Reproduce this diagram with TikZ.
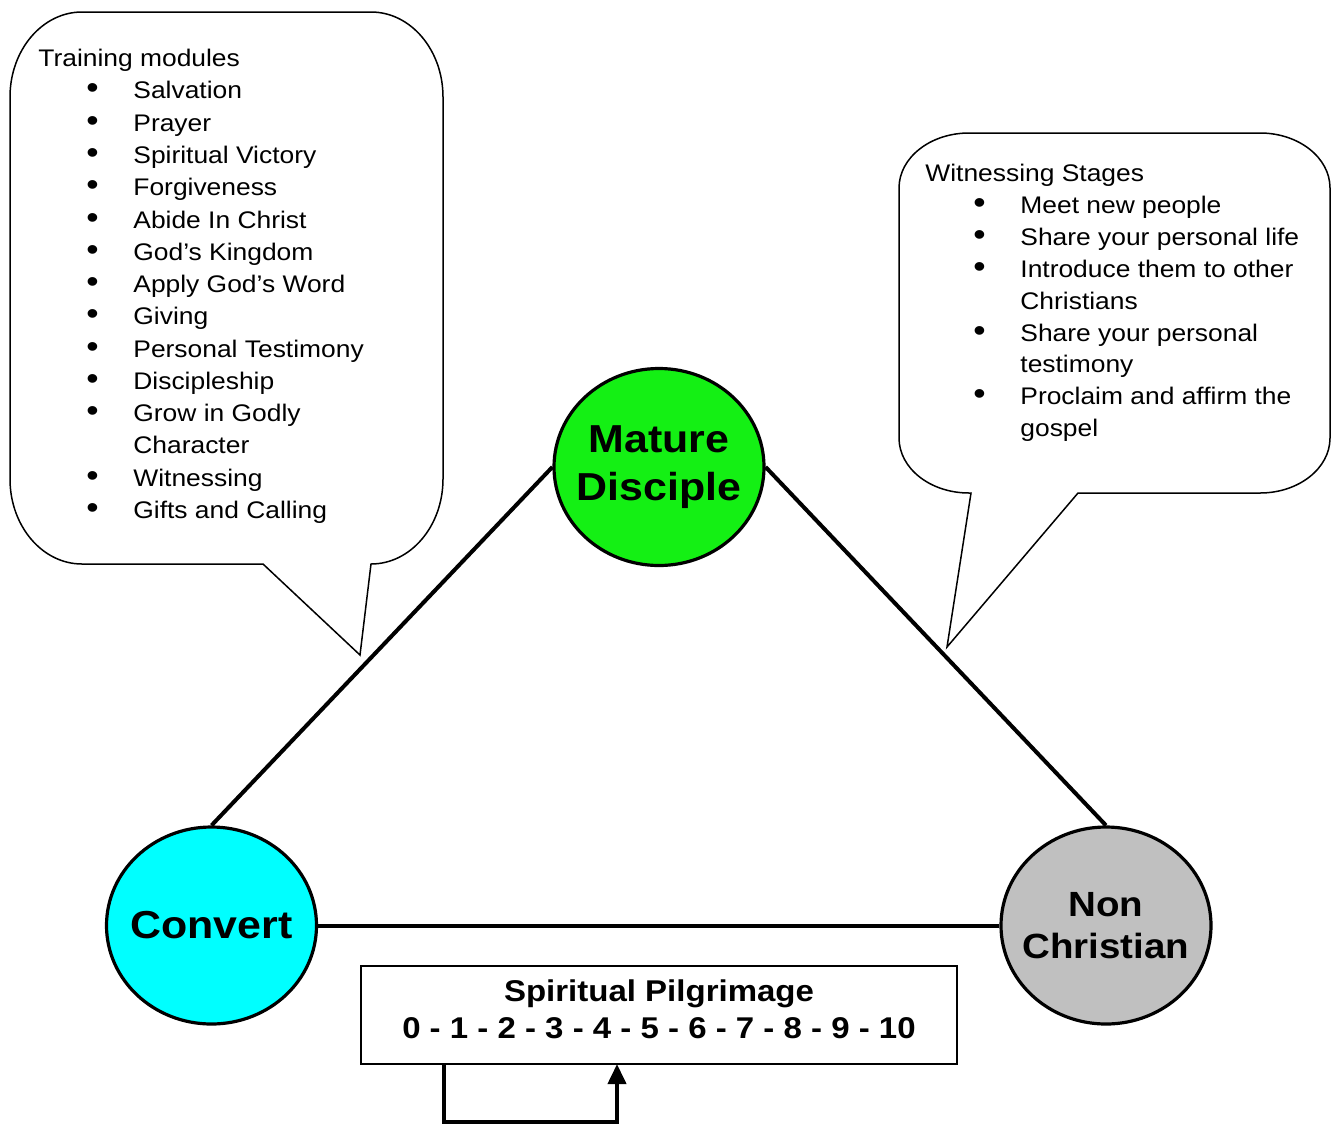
\documentclass[tikz,border=0pt]{standalone}
\usepackage{fontspec}
\setmainfont{Liberation Sans}[FakeStretch=1.1]
\usetikzlibrary{shapes.geometric,arrows.meta}
\definecolor{vertmd}{RGB}{20,240,20}
\definecolor{cyancv}{RGB}{0,255,255}
\definecolor{grisnc}{RGB}{192,192,192}
\newcommand{\puce}{\makebox[23.5pt][l]{\fontsize{16}{16}\selectfont\textbullet}}

\begin{document}
\begin{tikzpicture}[x=0.5pt,y=-0.5pt]
\tikzset{gdnoeud/.style={draw, ellipse, line width=1.6pt, minimum width=105pt, minimum height=98.5pt, inner sep=0pt},
  titre/.style={font=\bfseries\fontsize{19.5}{24}\selectfont, align=center, inner sep=0pt},
  bulle/.style={draw, line width=0.75pt, fill=white},
  liste/.style={anchor=base west, inner sep=0pt},
  trait/.style={line width=2pt}}
\useasboundingbox (0,0) rectangle (1332,1125);
% bulles
\draw[bulle] (82,12) -- (371,12) arc[start angle=-90, end angle=0, x radius=72, y radius=85] -- (443,479)
  arc[start angle=0, end angle=90, x radius=72, y radius=85] -- (360,655) -- (263,564) -- (82,564)
  arc[start angle=90, end angle=180, x radius=72, y radius=85] -- (10,97)
  arc[start angle=180, end angle=270, x radius=72, y radius=85] -- cycle;
\draw[bulle] (969,133) -- (1260,133) arc[start angle=-90, end angle=0, x radius=70, y radius=55] -- (1330,438)
  arc[start angle=0, end angle=90, x radius=70, y radius=55] -- (1078,493) -- (947,647) -- (971,493) -- (969,493)
  arc[start angle=90, end angle=180, x radius=70, y radius=55] -- (899,188)
  arc[start angle=180, end angle=270, x radius=70, y radius=55] -- cycle;
\node[liste, font=\fontsize{12}{16.13}\selectfont] (TM) at (38,66.7) {\begin{tabular}[t]{@{\hspace{24pt}}l@{}l@{}}
\multicolumn{2}{@{}l@{}}{Training modules}\\
\puce & Salvation\\
\puce & Prayer\\
\puce & Spiritual Victory\\
\puce & Forgiveness\\
\puce & Abide In Christ\\
\puce & God’s Kingdom\\
\puce & Apply God’s Word\\
\puce & Giving\\
\puce & Personal Testimony\\
\puce & Discipleship\\
\puce & Grow in Godly\\
 & Character\\
\puce & Witnessing\\
\puce & Gifts and Calling
\end{tabular}};
\node[liste, font=\fontsize{12}{15.95}\selectfont] (WS) at (925,181.5) {\begin{tabular}[t]{@{\hspace{24pt}}l@{}l@{}}
\multicolumn{2}{@{}l@{}}{Witnessing Stages}\\
\puce & Meet new people\\
\puce & Share your personal life\\
\puce & Introduce them to other\\
 & Christians\\
\puce & Share your personal\\
 & testimony\\
\puce & Proclaim and affirm the\\
 & gospel
\end{tabular}};
% triangle
\node[gdnoeud, fill=vertmd] (MD) at (659,467) {};
\node[gdnoeud, fill=cyancv] (CV) at (211.5,925.5) {};
\node[gdnoeud, fill=grisnc] (NC) at (1106,925.5) {};
\node[titre] (MDt) at (MD) {Mature\\Disciple};
\node[titre] (CVt) at (CV) {Convert};
\node[titre, font=\bfseries\fontsize{17.5}{20.8}\selectfont] (NCt) at (NC) {Non\\Christian};
\draw[trait] (CV.north) -- (MD.west);
\draw[trait] (MD.east) -- (NC.north);
\draw[trait] (CV.east) -- (NC.west);
% pelerinage
\node[draw, line width=0.6pt, minimum width=298pt, minimum height=49pt, inner sep=0pt, align=center, text depth=6pt,
  font=\bfseries\fontsize{15}{18.65}\selectfont] (SP) at (659,1015) {Spiritual Pilgrimage\\0 - 1 - 2 - 3 - 4 - 5 - 6 - 7 - 8 - 9 - 10};
\coordinate (SPa) at (444,1064);
\coordinate (SPb) at (617,1064);
\draw[trait, -{Triangle[width=9pt,length=10pt]}] (SPa) -- ++(0,58) -| (SPb);
\end{tikzpicture}
\end{document}
